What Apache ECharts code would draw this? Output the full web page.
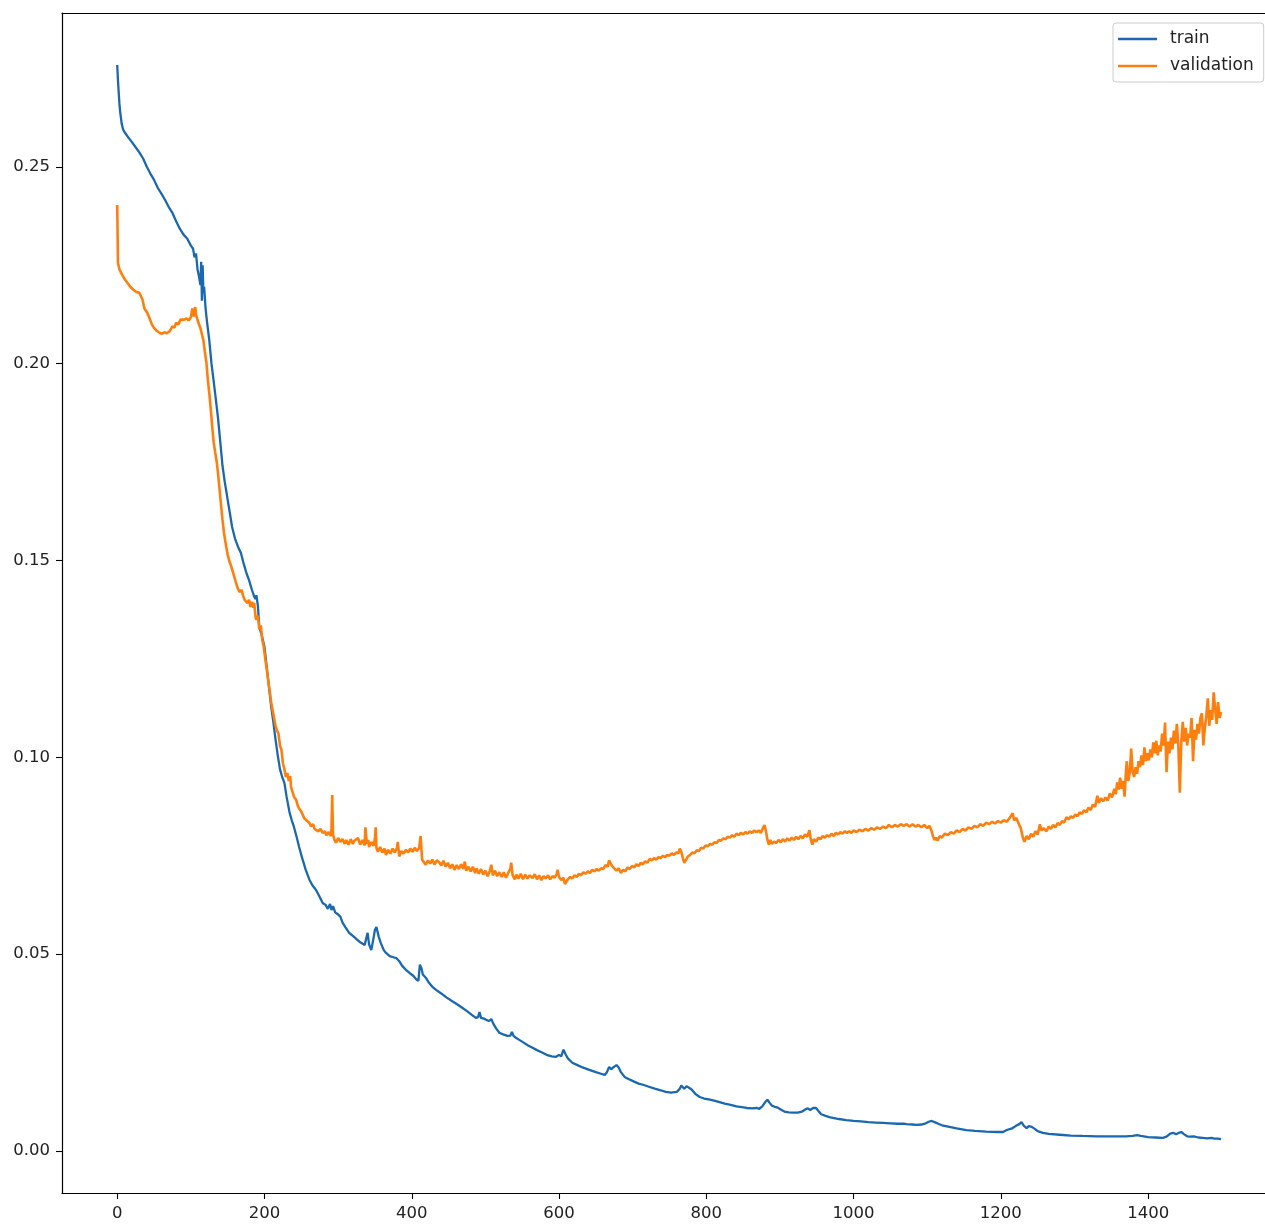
<!DOCTYPE html>
<html>
<head>
<meta charset="utf-8">
<script src="https://cdn.jsdelivr.net/npm/echarts@6/dist/echarts.min.js"></script>
<style>
html,body{margin:0;padding:0;background:#fff;}
#chart{width:1265px;height:1224px;}
</style>
</head>
<body>
<div id="chart"></div>
<script>
const seriesNames = ['train', 'validation'];
const xTickValues = [0, 200, 400, 600, 800, 1000, 1200, 1400];
const yTickValues = [0, 0.05, 0.10, 0.15, 0.20, 0.25];

const trainLoss = [
[0,.2759],[1,.2720],[2,.2690],[3,.2660],[4,.2640],[6,.2610],[8,.2595],[10,.2588],[15,.2575],[20,.2563],
[25,.2550],[30,.2537],[35,.2522],[40,.2501],[45,.2483],[50,.2467],[55,.2447],[60,.2432],[65,.2416],[70,.2398],
[75,.2383],[80,.2362],[85,.2343],[90,.2328],[95,.2318],[100,.2300],[103,.2292],[105,.2270],[107,.2280],[109,.2240],
[111,.2222],[113,.2200],[114,.2259],[115,.2160],[116,.2250],[117,.2180],[118,.2195],[120,.2140],[122,.2105],[125,.2060],
[128,.2000],[131,.1955],[134,.1908],[137,.1860],[140,.1800],[143,.1740],[146,.1700],[150,.1654],[153,.1620],[156,.1585],
[160,.1555],[164,.1535],[168,.1519],[172,.1490],[176,.1465],[179,.1450],[183,.1425],[186,.1408],[188,.1402],[189,.1412],
[191,.1385],[193,.1330],[196,.1312],[200,.1280],[203,.1230],[206,.1180],[209,.1130],[212,.1090],[215,.1045],[218,.1005],
[221,.0970],[224,.0950],[227,.0935],[230,.0900],[234,.0860],[237,.0840],[240,.0823],[244,.0795],[247,.0772],[251,.0745],
[256,.0714],[261,.0689],[265,.0675],[270,.0663],[275,.0645],[279,.0630],[283,.0625],[286,.0615],[289,.0627],[291,.0612],
[293,.0622],[296,.0606],[299,.0602],[303,.0595],[306,.0580],[310,.0568],[315,.0554],[320,.0546],[325,.0538],[330,.0530],
[336,.0523],[338,.0518],[340,.0554],[342,.0525],[345,.0510],[348,.0540],[350,.0562],[352,.0569],[355,.0545],[358,.0528],
[362,.0510],[365,.0503],[370,.0495],[375,.0492],[379,.0490],[383,.0482],[387,.0470],[392,.0460],[397,.0452],[402,.0445],
[406,.0436],[409,.0432],[411,.0473],[413,.0465],[415,.0448],[419,.0440],[423,.0428],[428,.0417],[433,.0409],[440,.0400],
[447,.0390],[455,.0380],[462,.0372],[469,.0363],[475,.0355],[482,.0345],[487,.0338],[490,.0340],[492,.0353],[494,.0338],
[498,.0336],[501,.0333],[505,.0330],[508,.0335],[511,.0322],[515,.0310],[519,.0300],[524,.0296],[530,.0292],[534,.0293],
[536,.0302],[538,.0293],[541,.0288],[546,.0282],[552,.0275],[558,.0268],[564,.0262],[570,.0256],[577,.0250],[583,.0244],
[590,.0240],[596,.0239],[600,.0244],[603,.0240],[606,.0257],[609,.0245],[612,.0235],[618,.0224],[625,.0218],[632,.0212],
[641,.0206],[650,.0200],[657,.0196],[662,.0193],[665,.0200],[668,.0213],[671,.0208],[675,.0214],[678,.0218],[681,.0212],
[684,.0200],[689,.0188],[695,.0182],[702,.0176],[708,.0171],[714,.0168],[722,.0163],[730,.0158],[738,.0154],[745,.0150],
[752,.0148],[760,.0150],[764,.0158],[766,.0166],[768,.0168],[770,.0158],[773,.0164],[776,.0161],[780,.0156],[785,.0145],
[791,.0137],[797,.0133],[805,.0130],[812,.0127],[818,.0124],[825,.0120],[833,.0117],[841,.0113],[848,.0111],[855,.0109],
[862,.0108],[868,.0109],[872,.0107],[876,.0113],[880,.0124],[883,.0130],[886,.0122],[889,.0115],[893,.0112],[897,.0110],
[901,.0105],[906,.0100],[912,.0098],[918,.0097],[924,.0097],[930,.0100],[935,.0106],[938,.0108],[941,.0104],[945,.0109],
[949,.0109],[952,.0102],[956,.0093],[962,.0089],[967,.0086],[972,.0084],[980,.0081],[990,.0078],[1000,.0076],[1010,.0075],
[1020,.0073],[1030,.0072],[1040,.0071],[1050,.0070],[1060,.0069],[1068,.0069],[1070,.0071],[1072,.0068],[1080,.0067],[1085,.0066],
[1092,.0067],[1098,.0070],[1102,.0074],[1106,.0076],[1110,.0073],[1115,.0069],[1120,.0065],[1130,.0061],[1140,.0057],[1153,.0053],
[1165,.0051],[1180,.0049],[1195,.0048],[1203,.0048],[1208,.0053],[1213,.0056],[1216,.0058],[1220,.0063],[1225,.0068],[1228,.0073],
[1231,.0064],[1235,.0058],[1238,.0063],[1242,.0061],[1246,.0056],[1250,.0050],[1257,.0046],[1265,.0043],[1280,.0041],[1295,.0039],
[1311,.0038],[1330,.0037],[1350,.0037],[1370,.0037],[1379,.0038],[1385,.0040],[1390,.0038],[1400,.0035],[1410,.0034],[1420,.0033],
[1425,.0036],[1430,.0044],[1434,.0046],[1438,.0042],[1442,.0046],[1445,.0048],[1449,.0042],[1453,.0037],[1457,.0036],[1462,.0037],
[1468,.0034],[1474,.0033],[1480,.0032],[1486,.0033],[1490,.0031],[1495,.0031],[1499,.0030]
];

const validationLoss = [
[0,.2403],[1,.2256],[3,.2240],[5,.2232],[7,.2225],[10,.2215],[14,.2205],[18,.2195],[22,.2188],[26,.2182],
[30,.2180],[32,.2178],[34,.2165],[37,.2140],[41,.2129],[44,.2115],[47,.2100],[50,.2091],[54,.2083],[58,.2078],
[61,.2076],[64,.2080],[67,.2077],[71,.2082],[75,.2095],[78,.2092],[80,.2104],[83,.2100],[86,.2112],[88,.2108],
[91,.2112],[94,.2115],[97,.2110],[100,.2118],[102,.2140],[104,.2120],[106,.2144],[107,.2125],[109,.2111],[111,.2112],
[113,.2090],[115,.2085],[117,.2060],[119,.2030],[121,.2005],[123,.1960],[125,.1926],[127,.1885],[129,.1840],[131,.1800],
[133,.1775],[135,.1752],[137,.1720],[139,.1680],[141,.1640],[143,.1603],[145,.1570],[148,.1535],[150,.1515],[152,.1500],
[155,.1484],[158,.1465],[161,.1445],[163,.1433],[166,.1420],[169,.1425],[171,.1410],[173,.1400],[175,.1405],[177,.1392],
[179,.1400],[181,.1382],[183,.1395],[185,.1380],[186,.1392],[188,.1355],[189,.1349],[191,.1360],[193,.1325],[195,.1335],
[197,.1298],[199,.1280],[201,.1250],[203,.1225],[205,.1195],[207,.1170],[209,.1140],[211,.1120],[213,.1100],[215,.1080],
[217,.1068],[219,.1060],[221,.1030],[223,.1019],[225,.0985],[227,.0970],[229,.0950],[231,.0960],[233,.0940],[235,.0952],
[236,.0925],[238,.0930],[240,.0900],[243,.0892],[245,.0878],[247,.0870],[250,.0862],[252,.0859],[254,.0845],[256,.0850],
[258,.0838],[261,.0833],[263,.0825],[266,.0830],[268,.0818],[270,.0822],[273,.0812],[276,.0818],[279,.0808],[282,.0812],
[284,.0802],[287,.0810],[290,.0800],[291,.0820],[292,.0904],[293,.0805],[295,.0790],[297,.0783],[300,.0795],[303,.0785],
[306,.0792],[309,.0780],[311,.0790],[314,.0778],[317,.0792],[320,.0780],[322,.0788],[324,.0783],[327,.0795],[330,.0778],
[333,.0790],[336,.0776],[337,.0822],[339,.0780],[341,.0790],[342,.0772],[345,.0785],[348,.0775],[350,.0795],[351,.0822],
[352,.0770],[354,.0760],[357,.0772],[360,.0758],[363,.0768],[365,.0752],[368,.0765],[371,.0755],[374,.0768],[377,.0758],
[380,.0770],[381,.0785],[383,.0748],[386,.0762],[389,.0755],[392,.0765],[395,.0758],[398,.0768],[401,.0760],[404,.0770],
[407,.0762],[410,.0770],[412,.0800],[414,.0740],[416,.0735],[419,.0727],[422,.0738],[425,.0730],[428,.0740],[431,.0728],
[434,.0738],[437,.0734],[440,.0725],[443,.0737],[446,.0722],[449,.0732],[452,.0718],[455,.0728],[458,.0714],[461,.0726],
[464,.0716],[467,.0728],[470,.0716],[472,.0735],[474,.0712],[477,.0722],[480,.0710],[483,.0722],[486,.0706],[488,.0718],
[491,.0704],[494,.0716],[497,.0702],[500,.0712],[503,.0698],[506,.0712],[508,.0727],[510,.0700],[513,.0712],[516,.0698],
[519,.0708],[522,.0696],[525,.0708],[528,.0694],[531,.0706],[534,.0718],[535,.0732],[537,.0700],[540,.0690],[542,.0702],
[545,.0692],[548,.0704],[551,.0690],[554,.0702],[557,.0692],[560,.0700],[564,.0693],[567,.0703],[570,.0690],[573,.0700],
[576,.0688],[579,.0698],[582,.0692],[585,.0700],[588,.0690],[591,.0698],[594,.0694],[597,.0704],[598,.0714],[600,.0696],
[603,.0688],[606,.0694],[608,.0678],[610,.0681],[612,.0690],[615,.0696],[618,.0692],[621,.0700],[624,.0696],[627,.0704],
[630,.0700],[633,.0708],[636,.0704],[639,.0710],[642,.0706],[645,.0714],[648,.0710],[651,.0716],[654,.0712],[657,.0718],
[660,.0716],[663,.0726],[666,.0722],[668,.0738],[670,.0730],[672,.0724],[675,.0718],[678,.0712],[681,.0718],[684,.0706],
[687,.0714],[690,.0710],[693,.0720],[696,.0716],[699,.0724],[702,.0720],[705,.0728],[708,.0724],[711,.0732],[714,.0728],
[717,.0736],[720,.0732],[723,.0742],[726,.0738],[729,.0744],[732,.0740],[735,.0746],[738,.0744],[741,.0750],[744,.0746],
[747,.0752],[750,.0750],[753,.0756],[756,.0752],[759,.0758],[762,.0756],[764,.0768],[766,.0760],[768,.0745],[770,.0732],
[772,.0738],[775,.0748],[778,.0752],[781,.0758],[784,.0756],[787,.0764],[790,.0762],[793,.0770],[796,.0768],[799,.0776],
[802,.0774],[805,.0780],[808,.0778],[811,.0784],[814,.0782],[817,.0790],[820,.0788],[823,.0794],[826,.0792],[829,.0798],
[832,.0796],[835,.0802],[838,.0798],[841,.0806],[844,.0802],[847,.0808],[850,.0804],[853,.0810],[856,.0806],[859,.0812],
[862,.0808],[865,.0814],[868,.0810],[871,.0814],[874,.0808],[877,.0820],[879,.0828],[881,.0812],[883,.0790],[885,.0778],
[887,.0790],[889,.0780],[892,.0786],[895,.0782],[898,.0790],[901,.0784],[904,.0792],[907,.0786],[910,.0794],[913,.0788],
[916,.0796],[919,.0790],[922,.0798],[925,.0792],[928,.0800],[931,.0794],[934,.0804],[937,.0798],[940,.0815],[942,.0790],
[944,.0778],[946,.0792],[949,.0786],[952,.0796],[955,.0792],[958,.0800],[961,.0796],[964,.0802],[967,.0798],[970,.0806],
[973,.0800],[976,.0808],[979,.0804],[982,.0810],[985,.0806],[988,.0812],[991,.0808],[994,.0812],[997,.0808],[1000,.0814],
[1004,.0810],[1008,.0816],[1012,.0812],[1016,.0818],[1020,.0814],[1024,.0820],[1028,.0816],[1032,.0822],[1036,.0818],[1040,.0824],
[1044,.0820],[1048,.0828],[1052,.0822],[1056,.0828],[1060,.0824],[1064,.0830],[1068,.0826],[1072,.0830],[1076,.0824],[1080,.0830],
[1084,.0824],[1088,.0828],[1092,.0822],[1096,.0828],[1100,.0820],[1103,.0826],[1106,.0812],[1108,.0798],[1110,.0790],[1112,.0796],
[1114,.0788],[1117,.0800],[1120,.0796],[1124,.0806],[1128,.0802],[1132,.0810],[1136,.0806],[1140,.0814],[1144,.0810],[1148,.0818],
[1152,.0814],[1156,.0822],[1160,.0818],[1164,.0826],[1168,.0822],[1172,.0830],[1176,.0826],[1180,.0834],[1184,.0830],[1188,.0836],
[1192,.0832],[1196,.0838],[1200,.0834],[1204,.0840],[1208,.0836],[1212,.0846],[1216,.0858],[1218,.0840],[1221,.0846],[1224,.0832],
[1227,.0820],[1230,.0795],[1232,.0785],[1235,.0800],[1238,.0792],[1241,.0806],[1244,.0798],[1247,.0812],[1250,.0804],[1253,.0830],
[1255,.0814],[1258,.0820],[1262,.0812],[1265,.0824],[1268,.0818],[1271,.0828],[1274,.0822],[1277,.0833],[1280,.0828],[1283,.0838],
[1286,.0834],[1289,.0848],[1292,.0842],[1295,.0850],[1298,.0846],[1301,.0855],[1304,.0850],[1307,.0860],[1310,.0856],[1313,.0866],
[1316,.0860],[1319,.0872],[1322,.0866],[1325,.0880],[1328,.0874],[1331,.0902],[1333,.0884],[1336,.0896],[1339,.0888],[1342,.0898],
[1345,.0890],[1348,.0908],[1351,.0898],[1354,.0920],[1356,.0906],[1358,.0936],[1360,.0918],[1362,.0948],[1364,.0920],[1366,.0940],
[1368,.0900],[1370,.0968],[1371,.0990],[1373,.0940],[1375,.0960],[1377,.1022],[1379,.0962],[1381,.0950],[1383,.0975],[1385,.0958],
[1387,.0990],[1389,.0975],[1391,.1005],[1393,.0980],[1395,.1025],[1397,.0990],[1399,.1010],[1401,.0992],[1403,.1020],[1405,.1000],
[1407,.1038],[1409,.1010],[1411,.1042],[1413,.1005],[1415,.1030],[1417,.1015],[1419,.1060],[1421,.1030],[1423,.1088],[1424,.1020],
[1425,.0962],[1427,.1040],[1429,.1010],[1431,.1050],[1433,.1020],[1435,.1068],[1437,.1035],[1439,.1085],[1441,.1030],[1443,.0910],
[1445,.1040],[1447,.1090],[1449,.1040],[1451,.1075],[1453,.1030],[1455,.1060],[1457,.1050],[1459,.1100],[1461,.0990],[1463,.1070],
[1465,.1045],[1467,.1085],[1469,.1060],[1471,.1100],[1473,.1112],[1475,.1030],[1477,.1075],[1479,.1105],[1481,.1150],[1483,.1080],
[1485,.1120],[1487,.1095],[1489,.1165],[1491,.1170],[1493,.1085],[1495,.1140],[1497,.1100],[1499,.1115]
];

const textColor = '#222';
const fontFamily = 'DejaVu Sans';
const spine = {show: true, onZero: false, lineStyle: {color: '#000', width: 1.2}};
const xMin = -75, xMax = 1558.7;

const chart = echarts.init(document.getElementById('chart'), null, {renderer: 'canvas'});
chart.setOption({
  animation: false,
  backgroundColor: '#fff',
  grid: {left: 62, top: 13, bottom: 31, right: 0, show: false},
  legend: {
    orient: 'vertical',
    left: 1113, top: 23,
    padding: [7.5, 10, 7.5, 5],
    itemWidth: 39, itemHeight: 2.4, itemGap: 10,
    icon: 'rect',
    borderColor: '#cccccc', borderWidth: 1, borderRadius: 3,
    backgroundColor: 'rgba(255,255,255,0.8)',
    textStyle: {fontFamily: fontFamily, fontSize: 17, color: textColor, lineHeight: 17, padding: [0, 0, 0, 8]},
    data: seriesNames
  },
  xAxis: [{
    type: 'value', min: xMin, max: xMax, position: 'bottom',
    axisLine: spine,
    axisTick: {show: true, inside: false, length: 6, lineStyle: {color: '#000', width: 1.1}, customValues: xTickValues},
    axisLabel: {show: true, margin: 12, color: textColor, fontFamily: fontFamily, fontSize: 16.5,
      customValues: xTickValues, formatter: v => String(Math.round(v))},
    splitLine: {show: false}
  }, {
    type: 'value', min: xMin, max: xMax, position: 'top',
    axisLine: spine, axisTick: {show: false}, axisLabel: {show: false}, splitLine: {show: false}
  }],
  yAxis: {
    type: 'value', min: -0.0107, max: 0.2891,
    axisLine: spine,
    axisTick: {show: true, inside: false, length: 6, lineStyle: {color: '#000', width: 1.1}, customValues: yTickValues},
    axisLabel: {show: true, margin: 12, color: textColor, fontFamily: fontFamily, fontSize: 16.5,
      customValues: yTickValues, formatter: v => v.toFixed(2)},
    splitLine: {show: false}
  },
  series: [
    {name: seriesNames[0], type: 'line', data: trainLoss, showSymbol: false, symbol: 'none',
     color: '#1a68b0', lineStyle: {width: 2.3, color: '#1a68b0'}, sampling: 'none', z: 2},
    {name: seriesNames[1], type: 'line', data: validationLoss, showSymbol: false, symbol: 'none',
     color: '#ff7f0e', lineStyle: {width: 2.6, color: '#ff7f0e'}, sampling: 'none', z: 3}
  ]
});
</script>
</body>
</html>
